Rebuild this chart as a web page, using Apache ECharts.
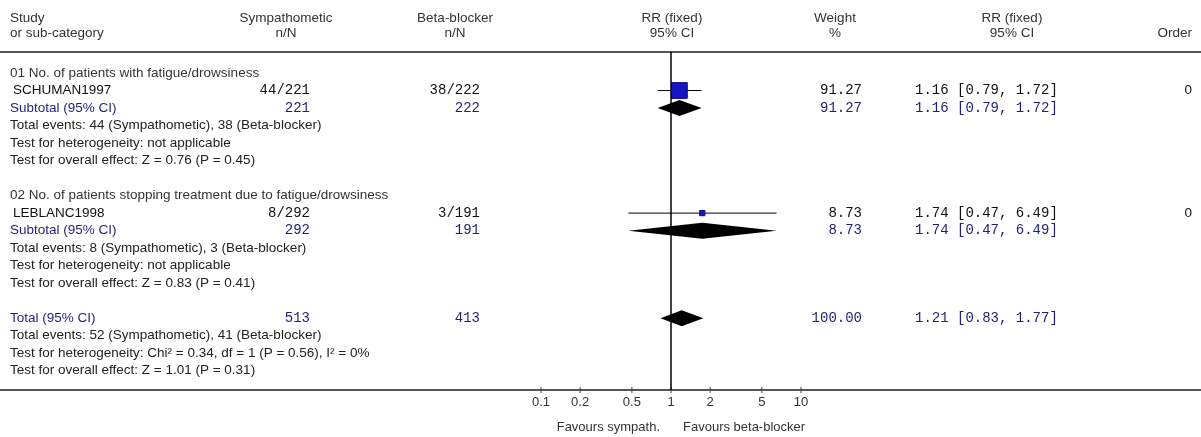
<!DOCTYPE html>
<html>
<head>
<meta charset="utf-8">
<script src="https://cdn.jsdelivr.net/npm/echarts@6/dist/echarts.min.js"></script>
<style>
  html, body { margin: 0; padding: 0; background: #fff; }
  #chart { width: 1201px; height: 437px; }
</style>
</head>
<body>
<div id="chart"></div>
<script>
// comparisons (one study each)
const groupTitles = [
  '01 No. of patients with fatigue/drowsiness',
  '02 No. of patients stopping treatment due to fatigue/drowsiness'
];
const studies = ['SCHUMAN1997', 'LEBLANC1998'];
const sympEvents = [44, 8];
const sympTotals = [221, 292];
const betaEvents = [38, 3];
const betaTotals = [222, 191];
const studyRR = [1.16, 1.74];
const studyLow = [0.79, 0.47];
const studyHigh = [1.72, 6.49];
const studyWeight = [91.27, 8.73];
const studyOrder = [0, 0];

// subtotals per comparison
const subRR = [1.16, 1.74];
const subLow = [0.79, 0.47];
const subHigh = [1.72, 6.49];
const subWeight = [91.27, 8.73];
const subHet = ['not applicable', 'not applicable'];
const subZ = ['0.76', '0.83'];
const subP = ['0.45', '0.41'];

// overall
const totalSymp = 513;
const totalBeta = 413;
const totalRR = [1.21, 0.83, 1.77];   // rr, low, high
const totalWeight = 100;
const totalEvents = [52, 41];
const totalHet = 'Chi\u00b2 = 0.34, df = 1 (P = 0.56), I\u00b2 = 0%';
const totalZ = '1.01';
const totalP = '0.31';

const tickValues = [0.1, 0.2, 0.5, 1, 2, 5, 10];

// ---- layout ----
const SANS = 'Liberation Sans, Arial, sans-serif';
const MONO = 'Liberation Mono, Courier New, monospace';
const sansFont = '13.5px ' + SANS;
const monoFont = '14px ' + MONO;
const NAVY = '#1f1f7a';
const col = { label: 10, study: 13, symp: 310, beta: 480, weight: 862, ci: 915, order: 1192 };

const fmtCI = (r, l, h) => `${r.toFixed(2)} [${l.toFixed(2)}, ${h.toFixed(2)}]`;

const textItems = [];
const marks = [];
function txt(row, x, text, opts) {
  textItems.push(Object.assign({ row: row, x: x, text: String(text), align: 'left', color: '#222', font: sansFont }, opts));
}

groupTitles.forEach(function (title, g) {
  const base = g * 7;
  txt(base, col.label, title, { color: '#333' });
  // study row
  txt(base + 1, col.study, studies[g], { color: '#111' });
  txt(base + 1, col.symp, `${sympEvents[g]}/${sympTotals[g]}`, { align: 'right', font: monoFont, color: '#111' });
  txt(base + 1, col.beta, `${betaEvents[g]}/${betaTotals[g]}`, { align: 'right', font: monoFont, color: '#111' });
  txt(base + 1, col.weight, studyWeight[g].toFixed(2), { align: 'right', font: monoFont, color: '#111' });
  txt(base + 1, col.ci, fmtCI(studyRR[g], studyLow[g], studyHigh[g]), { font: monoFont, color: '#111' });
  txt(base + 1, col.order, studyOrder[g], { align: 'right', color: '#111' });
  marks.push([studyRR[g], studyLow[g], studyHigh[g], base + 1, studyWeight[g], 'study']);
  // subtotal row
  txt(base + 2, col.label, 'Subtotal (95% CI)', { color: NAVY });
  txt(base + 2, col.symp, sympTotals[g], { align: 'right', font: monoFont, color: NAVY });
  txt(base + 2, col.beta, betaTotals[g], { align: 'right', font: monoFont, color: NAVY });
  txt(base + 2, col.weight, subWeight[g].toFixed(2), { align: 'right', font: monoFont, color: NAVY });
  txt(base + 2, col.ci, fmtCI(subRR[g], subLow[g], subHigh[g]), { font: monoFont, color: NAVY });
  marks.push([subRR[g], subLow[g], subHigh[g], base + 2, subWeight[g], 'diamond']);
  txt(base + 3, col.label, `Total events: ${sympEvents[g]} (Sympathometic), ${betaEvents[g]} (Beta-blocker)`);
  txt(base + 4, col.label, `Test for heterogeneity: ${subHet[g]}`);
  txt(base + 5, col.label, `Test for overall effect: Z = ${subZ[g]} (P = ${subP[g]})`);
});

txt(14, col.label, 'Total (95% CI)', { color: NAVY });
txt(14, col.symp, totalSymp, { align: 'right', font: monoFont, color: NAVY });
txt(14, col.beta, totalBeta, { align: 'right', font: monoFont, color: NAVY });
txt(14, col.weight, totalWeight.toFixed(2), { align: 'right', font: monoFont, color: NAVY });
txt(14, col.ci, fmtCI(totalRR[0], totalRR[1], totalRR[2]), { font: monoFont, color: NAVY });
marks.push([totalRR[0], totalRR[1], totalRR[2], 14, totalWeight, 'diamond']);
txt(15, col.label, `Total events: ${totalEvents[0]} (Sympathometic), ${totalEvents[1]} (Beta-blocker)`);
txt(16, col.label, `Test for heterogeneity: ${totalHet}`);
txt(17, col.label, `Test for overall effect: Z = ${totalZ} (P = ${totalP})`);

// header
const headers = [
  [10, 'Study', 'or sub-category', 'left'],
  [286, 'Sympathometic', 'n/N', 'center'],
  [455, 'Beta-blocker', 'n/N', 'center'],
  [672, 'RR (fixed)', '95% CI', 'center'],
  [835, 'Weight', '%', 'center'],
  [1012, 'RR (fixed)', '95% CI', 'center']
];
const graphic = [];
headers.forEach(function (h) {
  graphic.push({ type: 'text', x: h[0], y: 18, style: { text: h[1], font: sansFont, fill: '#333', align: h[3], verticalAlign: 'middle' } });
  graphic.push({ type: 'text', x: h[0], y: 33, style: { text: h[2], font: sansFont, fill: '#333', align: h[3], verticalAlign: 'middle' } });
});
graphic.push({ type: 'text', x: 1192, y: 33, style: { text: 'Order', font: sansFont, fill: '#333', align: 'right', verticalAlign: 'middle' } });
graphic.push({ type: 'text', x: 660, y: 427, style: { text: 'Favours sympath.', font: '13px ' + SANS, fill: '#333', align: 'right', verticalAlign: 'middle' } });
graphic.push({ type: 'text', x: 683, y: 427, style: { text: 'Favours beta-blocker', font: '13px ' + SANS, fill: '#333', align: 'left', verticalAlign: 'middle' } });

const rowAxis = { type: 'value', inverse: true, min: -1.2, max: 18.1, show: false };
const lineCol = '#555';

let myChart = echarts.init(document.getElementById('chart'));
myChart.setOption({
  animation: false,
  graphic: graphic,
  grid: [
    { left: 0, right: 0, top: 52, bottom: 47 },
    { left: 541, width: 260, top: 52, bottom: 47 }
  ],
  xAxis: [
    { type: 'value', gridIndex: 0, min: 0, max: 1201, position: 'bottom',
      axisLine: { show: true, onZero: false, lineStyle: { color: lineCol, width: 2 } },
      axisTick: { show: false }, axisLabel: { show: false }, splitLine: { show: false } },
    { type: 'value', gridIndex: 0, min: 0, max: 1201, position: 'top',
      axisLine: { show: true, onZero: false, lineStyle: { color: lineCol, width: 2 } },
      axisTick: { show: false }, axisLabel: { show: false }, splitLine: { show: false } },
    { type: 'log', gridIndex: 1, logBase: 10, min: 0.1, max: 10,
      axisLine: { show: false, onZero: false }, axisTick: { show: false }, axisLabel: { show: false }, splitLine: { show: false } }
  ],
  yAxis: [
    Object.assign({ gridIndex: 0 }, rowAxis),
    Object.assign({ gridIndex: 1 }, rowAxis)
  ],
  series: [
    {
      // table text
      type: 'custom',
      xAxisIndex: 0, yAxisIndex: 0,
      silent: true,
      data: textItems.map(t => [t.x, t.row]),
      encode: { x: 0, y: 1 },
      renderItem: function (params, api) {
        const t = textItems[params.dataIndex];
        const p = api.coord([api.value(0), api.value(1)]);
        return { type: 'text', x: p[0], y: p[1],
          style: { text: t.text, font: t.font, fill: t.color, align: t.align, verticalAlign: 'middle' } };
      }
    },
    {
      // squares, whiskers and diamonds
      type: 'custom',
      xAxisIndex: 2, yAxisIndex: 1,
      silent: true,
      data: marks,
      encode: { x: [0, 1, 2], y: 3 },
      renderItem: function (params, api) {
        const row = api.value(3);
        const c = api.coord([api.value(0), row]);
        const lo = api.coord([api.value(1), row]);
        const hi = api.coord([api.value(2), row]);
        const kind = marks[params.dataIndex][5];
        if (kind === 'study') {
          const s = 1.6 * Math.sqrt(api.value(4)) + 0.5;
          return { type: 'group', children: [
            { type: 'line', shape: { x1: lo[0], y1: lo[1], x2: hi[0], y2: hi[1] }, style: { stroke: '#000', lineWidth: 1 } },
            { type: 'rect', shape: { x: c[0] - s / 2, y: c[1] - s / 2, width: s, height: s },
              style: { fill: '#1515c8', stroke: '#0b0b7a', lineWidth: 1 } }
          ] };
        }
        const h = 8;
        return { type: 'polygon',
          shape: { points: [[lo[0], lo[1]], [c[0], c[1] - h], [hi[0], hi[1]], [c[0], c[1] + h]] },
          style: { fill: '#000' } };
      },
      markLine: {
        silent: true, symbol: 'none', label: { show: false },
        lineStyle: { color: '#000', width: 1.5, type: 'solid' },
        data: [{ xAxis: 1 }]
      }
    },
    {
      // log axis ticks and labels
      type: 'custom',
      xAxisIndex: 2, yAxisIndex: 1,
      silent: true,
      data: tickValues.map(v => [v, 0]),
      encode: { x: 0, y: 1 },
      renderItem: function (params, api) {
        const x = api.coord([api.value(0), 0])[0];
        const y = params.coordSys.y + params.coordSys.height;
        return { type: 'group', children: [
          { type: 'line', shape: { x1: x, y1: y - 3, x2: x, y2: y + 3 }, style: { stroke: '#444', lineWidth: 1 } },
          { type: 'text', x: x, y: y + 12,
            style: { text: String(api.value(0)), font: '13px ' + SANS, fill: '#333', align: 'center', verticalAlign: 'middle' } }
        ] };
      }
    }
  ]
});
</script>
</body>
</html>
